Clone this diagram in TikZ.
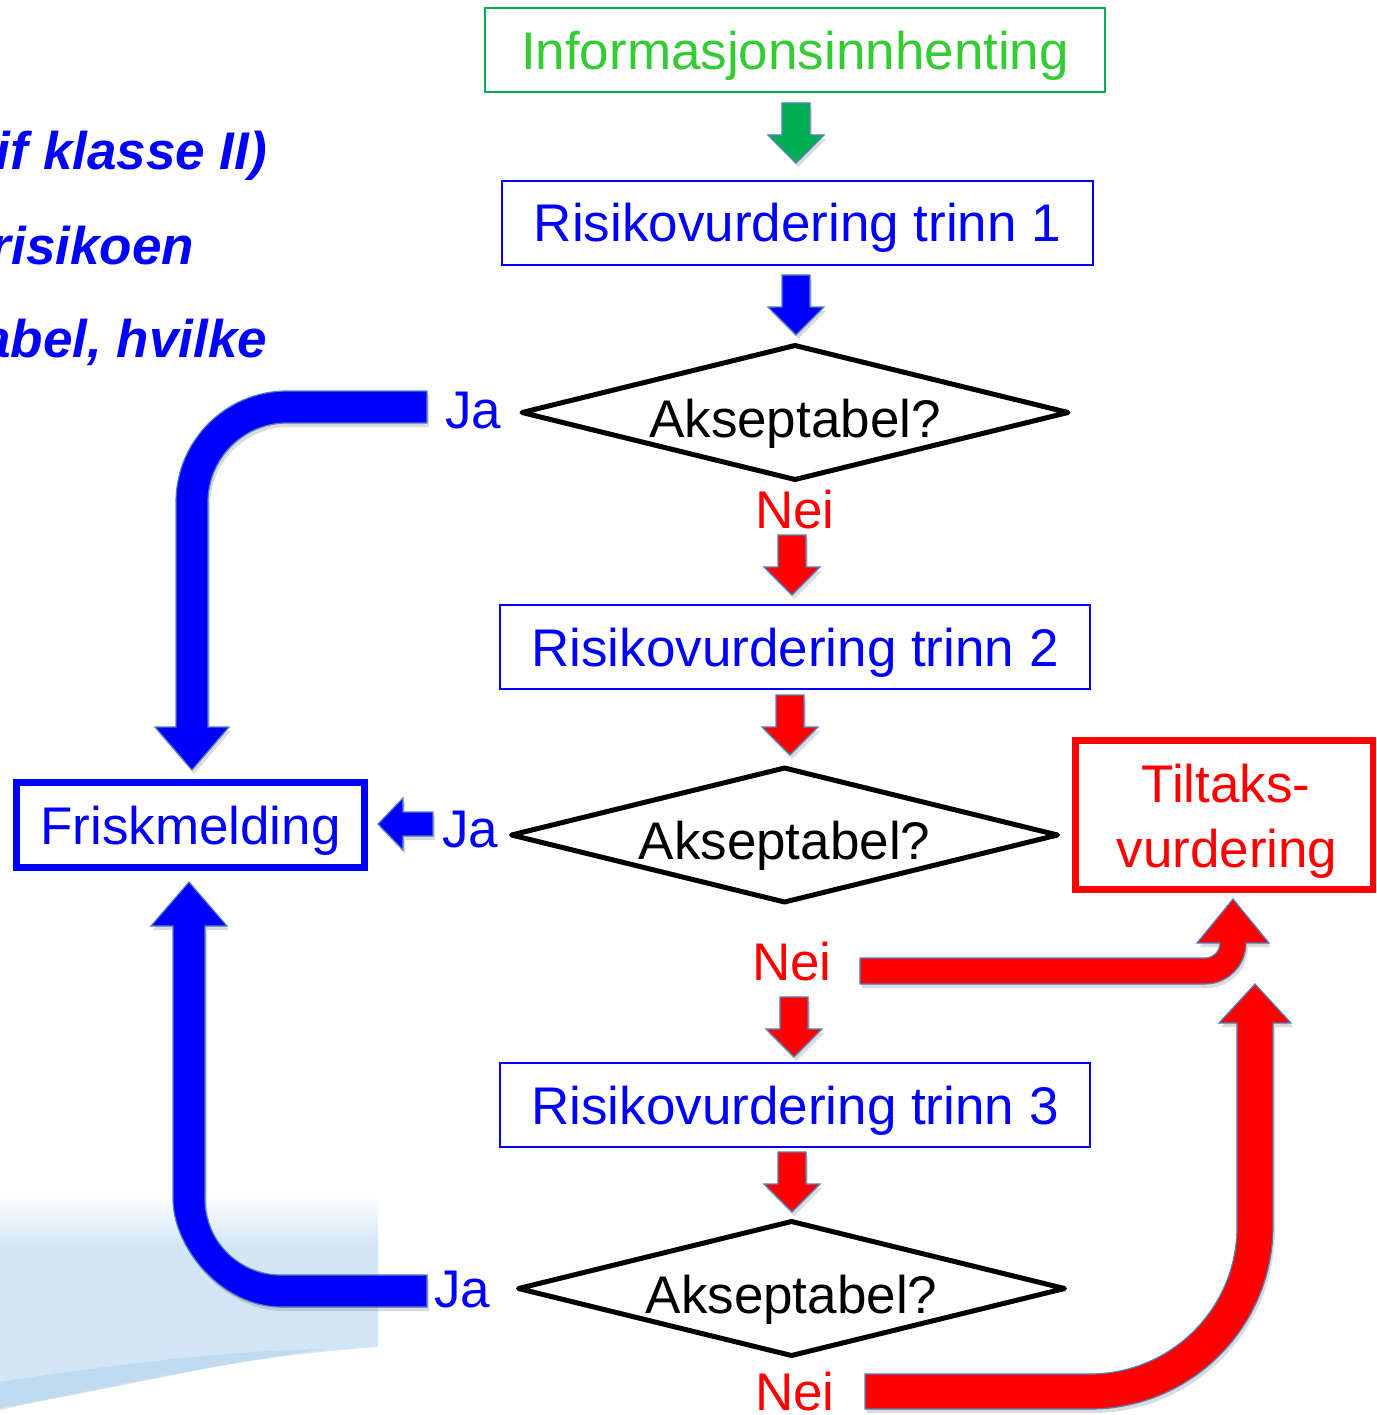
\documentclass[tikz,border=0pt]{standalone}
\usepackage{fontspec}
\setmainfont{Liberation Sans}
\usetikzlibrary{shapes.geometric,shadows}

\definecolor{flowblue}{HTML}{0000FF}
\definecolor{flowred}{HTML}{FF0000}
\definecolor{flowgreen}{HTML}{00B050}
\definecolor{greentext}{HTML}{33CC33}
\definecolor{arrowedge}{HTML}{4F81BD}
\definecolor{skyblue}{HTML}{D3E6F5}
\definecolor{skyband}{HTML}{B9D6EE}

\tikzset{
  every node/.style={inner sep=0pt, outer sep=0pt},
  bigfont/.style={font=\fontsize{53pt}{63pt}\selectfont},
  slidefont/.style={font=\fontsize{53pt}{63pt}\selectfont\bfseries\itshape, text=flowblue},
  stepbox/.style={rectangle, draw=flowblue, line width=2pt, minimum height=84pt,
    text=flowblue, bigfont, text height=38pt, text depth=0pt},
  infobox/.style={rectangle, draw=flowgreen, line width=2pt, minimum width=620pt,
    minimum height=84pt, text=greentext, bigfont, text height=40pt, text depth=0pt},
  endbox/.style={rectangle, line width=7pt},
  question/.style={shape=diamond, aspect=4, draw=black, line width=5pt, line join=round,
    minimum width=546pt, minimum height=134pt, bigfont, text height=49pt, text depth=0pt},
  answer/.style={bigfont, anchor=base},
  blockarrow/.style={draw=arrowedge, line width=1.2pt, line join=miter,
    drop shadow={opacity=0.28, shadow xshift=2pt, shadow yshift=-4pt}},
}

% straight block arrow pointing down: centre x, top y, fill colour
\newcommand\blockdown[3]{%
  \filldraw[blockarrow, fill=#3]
    ({#1-14},#2) -- ({#1+14},#2) -- ({#1+14},{#2+32}) -- ({#1+28},{#2+32})
    -- (#1,{#2+60}) -- ({#1-28},{#2+32}) -- ({#1-14},{#2+32}) -- cycle;}

\begin{document}
\begin{tikzpicture}[x=1pt, y=-1pt]
\useasboundingbox (0,0) rectangle (1376,1415);
\clip (0,0) rectangle (1376,1415);
\fill[white] (0,0) rectangle (1376,1415);

% pale slide background in the lower left corner
\shade[top color=white, bottom color=skyblue] (0,1195) rectangle (378,1245);
\fill[skyblue] (0,1244) -- (378,1244) -- (378,1347)
  .. controls (250,1355) and (110,1385) .. (0,1410) -- cycle;
\fill[skyband, opacity=0.7] (0,1382) .. controls (110,1365) and (230,1350) .. (330,1349)
  .. controls (230,1360) and (110,1390) .. (0,1408) -- cycle;

% cut-off slide text on the left
\node[slidefont, anchor=base east] (s1) at (267,170) {if klasse II)};
\node[slidefont, anchor=base east] (s2) at (194,265) {risikoen};
\node[slidefont, anchor=base east] (s3) at (267,357) {abel, hvilke};

% flow chart boxes
\node[infobox] (info) at (795,50) {Informasjonsinnhenting};
\node[stepbox, minimum width=591pt] (r1) at (797.5,223) {Risikovurdering trinn 1};
\node[stepbox, minimum width=590pt] (r2) at (795,647) {Risikovurdering trinn 2};
\node[stepbox, minimum width=590pt] (r3) at (795,1105) {Risikovurdering trinn 3};

\node[question] (q1) at (795,412.5) {Akseptabel?};
\node[question] (q2) at (784.5,835) {Akseptabel?};
\node[question] (q3) at (791.5,1288.5) {Akseptabel?};

\node[endbox, draw=flowblue, minimum width=348pt, minimum height=85pt,
  text=flowblue, bigfont, text height=38pt, text depth=0pt] (frisk) at (190.5,825) {Friskmelding};
\node[endbox, draw=flowred, minimum width=298pt, minimum height=148.5pt] (tilt) at (1224.5,814.75) {};
\node[answer, text=flowred] (tilt1) at (1226,802) {Tiltaks-};
\node[answer, text=flowred] (tilt2) at (1227,867) {vurdering};

% answers
\node[answer, text=flowblue] (ja1) at (473,428) {Ja};
\node[answer, text=flowblue] (ja2) at (470,847) {Ja};
\node[answer, text=flowblue] (ja3) at (462,1307) {Ja};
\node[answer, text=flowred] (nei1) at (795,528) {Nei};
\node[answer, text=flowred] (nei2) at (792,980) {Nei};
\node[answer, text=flowred] (nei3) at (795,1410) {Nei};

% short block arrows down the main column
\blockdown{796}{103}{flowgreen}
\blockdown{796}{275}{flowblue}
\blockdown{792}{535}{flowred}
\blockdown{790}{695}{flowred}
\blockdown{794}{997}{flowred}
\blockdown{792}{1152}{flowred}

% small arrow into Friskmelding
\filldraw[blockarrow, fill=flowblue]
  (433,812) -- (403,812) -- (403,798) -- (378,824) -- (403,850) -- (403,836) -- (433,836) -- cycle;

% bent arrow from the first "Ja" down to Friskmelding
\filldraw[blockarrow, fill=flowblue]
  (427,391) -- (287,391) .. controls (225.7,391) and (176,440.7) .. (176,502)
  -- (176,727) -- (155,727) -- (192,770) -- (229,727) -- (208,727) -- (208,502)
  .. controls (208,458.4) and (243.4,423) .. (287,423) -- (427,423) -- cycle;

% bent arrow from the last "Ja" up to Friskmelding
\filldraw[blockarrow, fill=flowblue]
  (427,1307) -- (281,1307) .. controls (221.4,1307) and (173,1247.4) .. (173,1199)
  -- (173,926) -- (151,926) -- (189,882) -- (227,926) -- (205,926) -- (205,1199)
  .. controls (205,1241) and (239,1275) .. (281,1275) -- (427,1275) -- cycle;

% bent arrow from the middle "Nei" up to Tiltaksvurdering
\filldraw[blockarrow, fill=flowred]
  (860,958) -- (1205,958) .. controls (1213.3,958) and (1220,951.3) .. (1220,943)
  -- (1197,943) -- (1233,899) -- (1269,943) -- (1246,943)
  .. controls (1246,965.6) and (1227.6,984) .. (1205,984) -- (860,984) -- cycle;

% bent arrow from the last "Nei" up to Tiltaksvurdering
\filldraw[blockarrow, fill=flowred]
  (865,1374) -- (1090,1374) .. controls (1171.2,1374) and (1237,1308.2) .. (1237,1227)
  -- (1237,1023) -- (1219,1023) -- (1255,984) -- (1291,1023) -- (1273,1023) -- (1273,1226)
  .. controls (1273,1327.1) and (1191.1,1409) .. (1090,1409) -- (865,1409) -- cycle;
\end{tikzpicture}
\end{document}
